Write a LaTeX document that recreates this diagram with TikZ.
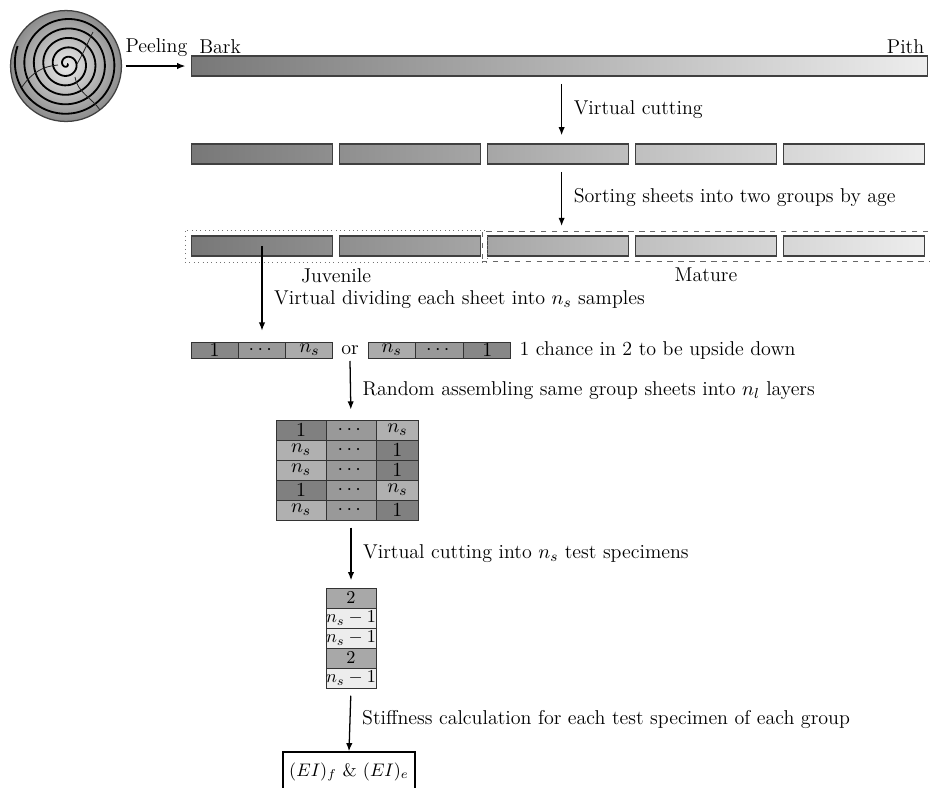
\documentclass[tikz,border=0pt]{standalone}
\usepackage{amsmath}
\usetikzlibrary{fit,arrows.meta}

\tikzset{
  sheet/.style={draw=black!75, line width=0.6pt, minimum width=78pt, minimum height=11pt, inner sep=0pt},
  cell/.style={draw=black!80, line width=0.5pt, minimum width=26pt, minimum height=8.8pt, inner sep=0pt},
  gcell/.style={draw=black!80, line width=0.5pt, minimum width=27.5pt, minimum height=11pt, inner sep=0pt},
  flow/.style={->, line width=0.7pt},
  crack/.style={line width=0.45pt, black!85},
}

\begin{document}
\begin{tikzpicture}[x=0.55pt, y=-0.55pt, >={Latex[length=4.5pt,width=3.5pt]}, font=\fontsize{11}{13}\selectfont]
		\useasboundingbox (0,0) rectangle (930,787);
		% log and peeling
		\node[circle, minimum size=61pt, inner sep=0pt, draw=black!75, line width=0.7pt, inner color=black!8, outer color=black!45] (log) at (66,66) {};
		\draw[line width=1pt, shift={(67,64)}] plot[domain=0:2000, samples=300, smooth] (\x:{\x/38});
		\draw[crack] (77,64) .. controls (84,52) and (88,42) .. (93,32);
		\draw[crack] (58,65) .. controls (44,66) and (32,72) .. (22,87);
		\draw[crack] (75,77) .. controls (77,92) and (92,98) .. (100,110);
		\node[sheet, minimum width=405pt, left color=black!53, right color=black!7] (strip) at (559.5,66) {};
		\node[anchor=south west, inner sep=1pt] (bark) at ([xshift=3.5pt]strip.north west) {Bark};
		\node[anchor=south east, inner sep=1pt] (pith) at ([xshift=-1pt]strip.north east) {Pith};
		\draw[flow, shorten <=2pt, shorten >=3pt] (strip.west -| log.east) -- (strip.west) node[midway, above=1.5pt] {Peeling};
		% sheets
		\foreach \x/\l/\r [count=\k] in {262/53/44, 410/44/35, 558/35/25, 706/25/16, 854/16/7} {
			\node[sheet, left color=black!\l, right color=black!\r] (s\k) at (\x,154) {};
			\node[sheet, left color=black!\l, right color=black!\r] (t\k) at (\x,246) {};
		}
		\node[fit=(t1)(t2), draw=black!55, dotted, inner sep=3pt] (juv) {};
		\node[fit=(t3)(t5), draw=black!60, dashed, inner sep=2.5pt] (mat) {};
		\node[below=0pt] (juvlbl) at (juv.south) {Juvenile};
		\node[below=0pt] (matlbl) at (mat.south) {Mature};
		\draw[flow, shorten <=4pt, shorten >=4.5pt] ([xshift=2pt]strip.south -| s3.north) -- ([xshift=2pt]s3.north) node[midway, right=3pt] {Virtual cutting};
		\draw[flow, shorten <=4pt, shorten >=2.5pt] ([xshift=2pt]s3.south) -- ([xshift=2pt]mat.north -| s3.south) node[midway, right=3pt] {Sorting sheets into two groups by age};
		% samples of one sheet
		\foreach \x/\t/\c [count=\k] in {214.7/1/47, 262/\cdots/40, 309.3/n_s/33} \node[cell, fill=black!\c] (a\k) at (\x,350) {$\t$};
		\foreach \x/\t/\c [count=\k] in {391.7/n_s/33, 439.5/\cdots/40, 487.3/1/47} \node[cell, fill=black!\c] (b\k) at (\x,350) {$\t$};
		\node (or) at (350,350) {or};
		\node[right=1pt] (chance) at (b3.east) {1 chance in 2 to be upside down};
		\draw[flow, shorten >=6pt] (t1.center) -- (a2.north) node[pos=0.56, right=3pt] {Virtual dividing each sheet into $n_s$ samples};
		% layers
		\foreach \a/\b/\ca/\cb [count=\r] in {1/n_s/50/31, n_s/1/31/50, n_s/1/31/50, 1/n_s/50/31, n_s/1/31/50} {
			\node[gcell, fill=black!\ca] (g\r1) at (301,{410+20*\r}) {$\a$};
			\node[gcell, fill=black!40] (g\r2) at (351,{410+20*\r}) {$\cdots$};
			\node[gcell, minimum width=23.4pt, fill=black!\cb] (g\r3) at (397.3,{410+20*\r}) {$\b$};
		}
		\draw[flow, shorten >=5.5pt] (or.south) -- (g12.north) node[midway, right=3pt] {Random assembling same group sheets into $n_l$ layers};
		% test specimens
		\foreach \t/\c [count=\r] in {2/34, n_s-1/7, n_s-1/7, 2/34, n_s-1/7} \node[gcell, fill=black!\c, font=\fontsize{9.6}{11}\selectfont] (c\r) at (351,{578+20*\r}) {$\t$};
		\draw[flow, shorten <=4pt, shorten >=4pt] (g52.south) -- (c1.north) node[midway, right=3pt] {Virtual cutting into $n_s$ test specimens};
		\node[draw, line width=0.8pt, inner xsep=2pt, minimum width=72.6pt, minimum height=22pt, font=\fontsize{10}{12}\selectfont] (res) at (349,772) {$(EI)_f$ \& $(EI)_e$};
		\draw[flow, shorten <=4pt] (c5.south) -- (res.north) node[midway, right=3pt] {Stiffness calculation for each test specimen of each group};
	\end{tikzpicture}
\end{document}
